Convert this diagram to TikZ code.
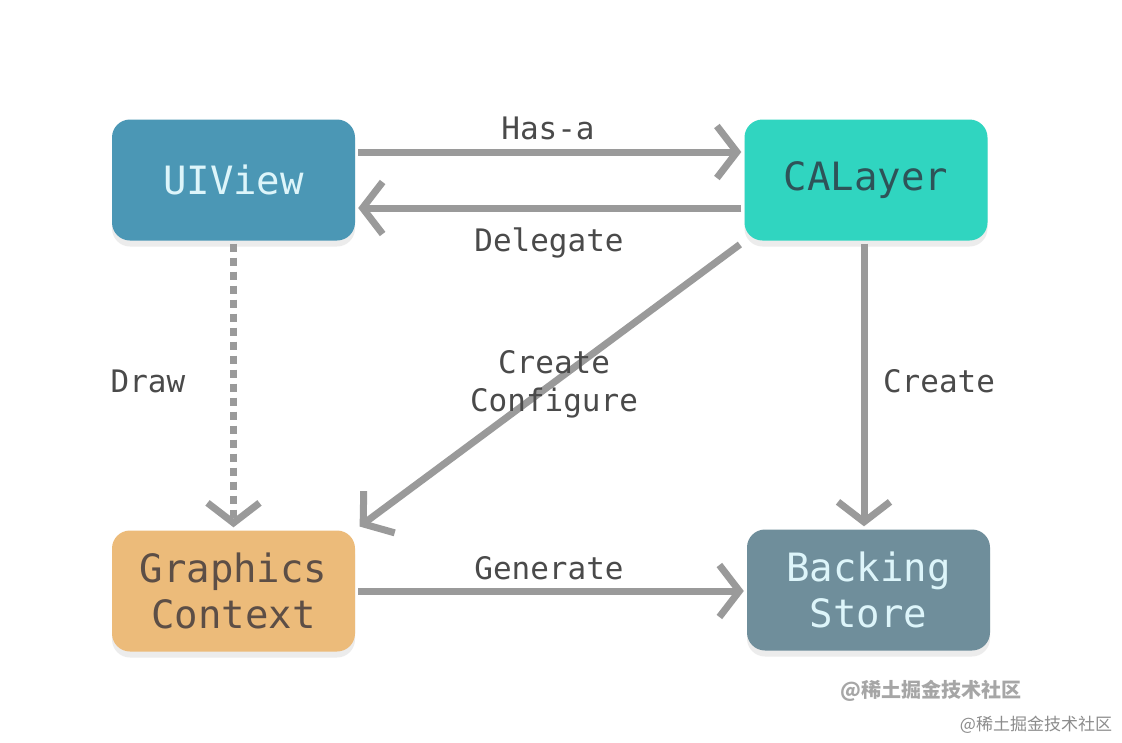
\documentclass[tikz,border=0pt]{standalone}
\usepackage{fontspec}
\setmonofont{DejaVu Sans Mono}
\newfontfamily\cjk{Noto Sans CJK SC}
\usetikzlibrary{arrows.meta,shadows}
\definecolor{uicol}{HTML}{4B97B5}
\definecolor{cacol}{HTML}{30D5C0}
\definecolor{gccol}{HTML}{ECBB7A}
\definecolor{bscol}{HTML}{6F8E9B}
\definecolor{arrcol}{HTML}{9A9A9A}
\definecolor{labcol}{HTML}{4A4A4A}
\definecolor{lighttext}{HTML}{DDF5FA}
\definecolor{catext}{HTML}{2E5358}
\definecolor{gctext}{HTML}{5C4E46}
\tikzset{
  box/.style={rectangle, rounded corners=18pt, minimum width=243pt, minimum height=121pt,
    inner sep=0pt, align=center, font=\ttfamily\fontsize{39}{46}\selectfont,
    drop shadow={opacity=0.15, shadow xshift=0pt, shadow yshift=-6pt}},
  conn/.style={draw=arrcol, line width=7pt, shorten <=3pt, shorten >=3pt,
    -{Straight Barb[length=20pt, width=52pt, line width=7pt]}},
  lab/.style={text=labcol, align=center, font=\ttfamily\fontsize{31}{38}\selectfont, inner sep=0pt},
  wm/.style={inner sep=0pt, font=\cjk},
}
\begin{document}
\begin{tikzpicture}[x=1pt,y=-1pt]
\useasboundingbox[fill=white] (0,0) rectangle (1122,742);
\node[box, fill=uicol, text=lighttext] (ui) at (233.5,180) {UIView};
\node[box, fill=cacol, text=catext] (ca) at (866,180) {CALayer};
\node[box, fill=gccol, text=gctext] (gc) at (233.5,591) {Graphics\\Context};
\node[box, fill=bscol, text=lighttext] (bs) at (868.5,590) {Backing\\Store};

\draw[conn] ([yshift=28pt]ui.east) -- ([yshift=28pt]ca.west);
\draw[conn] ([yshift=-28pt]ca.west) -- ([yshift=-28pt]ui.east);
\draw[conn, dash pattern=on 8pt off 6pt] (ui.south) -- (gc.north);
\draw[conn] ([xshift=-2pt]ca.south) -- ([xshift=-2pt]ca.south |- bs.north);
\draw[conn] ([xshift=-2pt,yshift=-2pt]ca.south west) -- ([xshift=2pt,yshift=2pt]gc.north east);
\draw[conn] (gc.east) -- (gc.east -| bs.west);

\node[lab] (lhas) at (548,128) {Has-a};
\node[lab] (ldel) at (549,243) {Delegate};
\node[lab] (ldraw) at (148,381) {Draw};
\node[lab] (lcc) at (554,384) {Create\\Configure};
\node[lab] (lcr) at (939,381) {Create};
\node[lab] (lgen) at (549,568) {Generate};

\node[wm, text=black!35, font=\cjk\bfseries\fontsize{20}{24}\selectfont] (wm1) at (931,691) {@稀土掘金技术社区};
\node[wm, text=black!45, font=\cjk\fontsize{17}{20}\selectfont] (wm2) at (1036,725) {@稀土掘金技术社区};
\end{tikzpicture}
\end{document}
